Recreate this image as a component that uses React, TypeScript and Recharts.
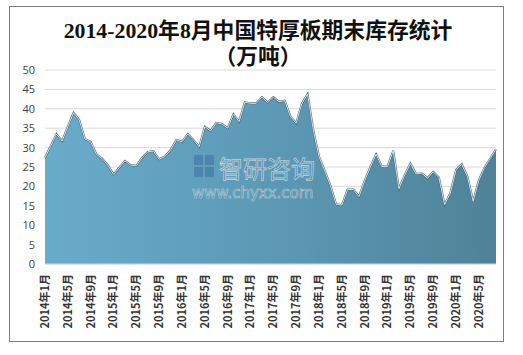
import { ComposedChart, Area, Line, XAxis, YAxis, CartesianGrid } from "recharts";

// 2014年1月 … 2020年8月，逐月
const YEARS = [2014, 2015, 2016, 2017, 2018, 2019, 2020];
const LAST_MONTH = 8;

// 期末库存（万吨）
const STOCK = [
  27.4, 30.4, 33.5, 31.7, 35.4, 39.0, 37.1, 32.2, 31.5, 28.3, 27.2, 25.5, // 2014
  23.1, 24.8, 26.6, 25.5, 25.3, 27.4, 28.9, 29.1, 27.0, 27.7, 29.4, 32.0, // 2015
  31.5, 33.5, 32.0, 30.2, 35.4, 34.3, 36.4, 36.1, 35.0, 38.6, 36.7, 41.7, // 2016
  41.4, 41.4, 43.0, 41.6, 43.0, 41.8, 42.1, 38.0, 36.3, 41.4, 43.8, 34.5, // 2017
  27.7, 24.0, 20.2, 15.4, 15.2, 19.2, 19.2, 17.4, 21.5, 25.0, 28.3, 25.1, // 2018
  25.1, 29.2, 19.4, 22.9, 25.9, 23.2, 23.4, 22.1, 23.8, 22.3, 15.3, 18.3, // 2019
  24.3, 25.7, 22.5, 16.2, 21.6, 24.9, 27.2, 29.6, // 2020
];

const Y_TICKS = [0, 5, 10, 15, 20, 25, 30, 35, 40, 45, 50];

const MONTHS: string[] = [];
YEARS.forEach((y) => {
  const n = y === 2020 ? LAST_MONTH : 12;
  for (let m = 1; m <= n; m++) MONTHS.push(`${y}年${m}月`);
});

const data = MONTHS.map((month, i) => ({ month, stock: STOCK[i] }));

const CJK = "'Noto Sans CJK SC', 'Noto Sans', sans-serif";

function MonthTick({ x, y, payload }: any) {
  return (
    <text
      x={x}
      y={y + 8}
      transform={`rotate(-90 ${x} ${y + 8})`}
      textAnchor="end"
      dy="0.36em"
      fontSize={11}
      fontWeight={600}
      fontFamily={CJK}
      fill="#333"
    >
      {payload.value}
    </text>
  );
}

export default function App() {
  return (
    <div style={{ position: "absolute", left: 0, top: 0, width: 523, height: 355, background: "#fff" }}>
      {/* 外框 */}
      <div
        style={{
          position: "absolute", left: 9, top: 6, width: 493, height: 334,
          border: "1px solid #7f7f7f",
        }}
      />
      {/* 标题 */}
      <div
        style={{
          position: "absolute", left: 0, top: 18, width: 516, textAlign: "center",
          fontFamily: "'Liberation Serif', 'Noto Sans CJK SC', serif", fontWeight: 700,
          fontSize: 21.8, lineHeight: "26px", color: "#111",
        }}
      >
        2014-2020年8月中国特厚板期末库存统计
        <br />
        （万吨）
      </div>

      <div style={{ position: "absolute", left: 0, top: 0 }}>
        <ComposedChart width={523} height={355} data={data} margin={{ top: 70, right: 27, bottom: 0, left: 0 }}>
          <defs>
            <linearGradient id="areaFill" x1="0" y1="0" x2="1" y2="0">
              <stop offset="0%" stopColor="#69acca" />
              <stop offset="55%" stopColor="#5b97b3" />
              <stop offset="100%" stopColor="#4f8297" />
            </linearGradient>
          </defs>
          <CartesianGrid vertical={false} stroke="#d9d9d9" />
          <XAxis
            dataKey="month"
            interval={3}
            height={91}
            tickLine={false}
            tickSize={0}
            axisLine={{ stroke: "#d9d9d9" }}
            tick={<MonthTick />}
          />
          <YAxis
            width={45}
            domain={[0, 50]}
            ticks={Y_TICKS}
            interval={0}
            axisLine={false}
            tickLine={false}
            tickSize={0}
            tickMargin={10}
            tick={{ fill: "#404040", fontSize: 11, fontFamily: "'Open Sans', sans-serif" }}
          />
          <Area
            type="linear"
            dataKey="stock"
            fill="url(#areaFill)"
            fillOpacity={1}
            stroke="#45697b"
            strokeWidth={2}
            isAnimationActive={false}
          />
          <Line
            type="linear"
            dataKey="stock"
            stroke="#e4f3f8"
            strokeWidth={0.9}
            dot={false}
            activeDot={false}
            isAnimationActive={false}
          />
        </ComposedChart>
      </div>

      {/* 水印 */}
      <svg width={523} height={355} style={{ position: "absolute", left: 0, top: 0, pointerEvents: "none" }}>
        <g opacity={0.55}>
          <rect x={194} y={155} width={9} height={10} fill="#3f6fa6" />
          <rect x={205} y={155} width={9} height={10} fill="#3f6fa6" />
          <rect x={194} y={167} width={9} height={10} fill="#3f6fa6" />
          <rect x={205} y={167} width={9} height={10} fill="#3f6fa6" />
          <text x={219} y={178} fontSize={24} fontFamily={CJK} fill="#4a6a80" stroke="#ffffff" strokeWidth={0.8}>
            智研咨询
          </text>
          <text x={192} y={198} fontSize={15} fontFamily="'DejaVu Sans', sans-serif" fill="#4a6a80" stroke="#ffffff" strokeWidth={0.6}>
            www.chyxx.com
          </text>
        </g>
      </svg>
    </div>
  );
}
